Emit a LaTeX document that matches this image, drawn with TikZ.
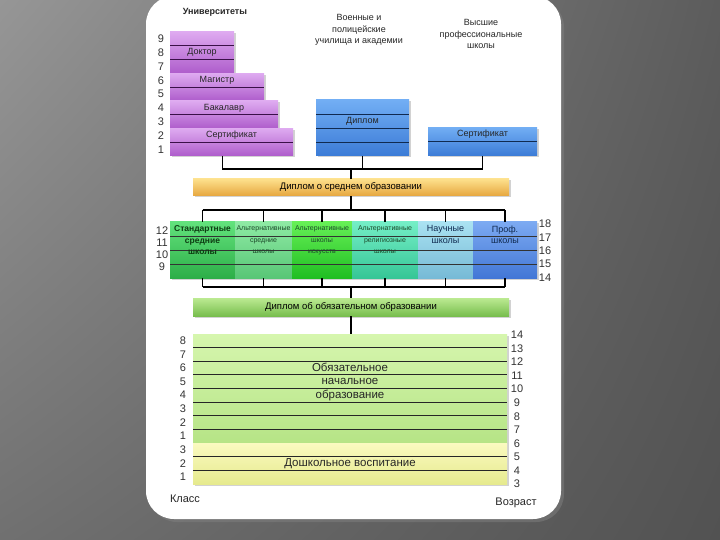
\documentclass[tikz,border=0pt]{standalone}
\usepackage{fontspec}
\setmainfont{Liberation Sans}
\usetikzlibrary{calc}
\usetikzlibrary{shadows}
\usetikzlibrary{shadings}

\definecolor{bgul}{HTML}{969696}
\definecolor{bgur}{HTML}{5C5C5C}
\definecolor{bgll}{HTML}{707070}
\definecolor{bglr}{HTML}{525252}
\definecolor{purpletop}{HTML}{DEAAF0}
\definecolor{purplebot}{HTML}{AE5CCB}
\definecolor{purpleline}{HTML}{3A1048}
\definecolor{bluetop}{HTML}{72AEF4}
\definecolor{bluebot}{HTML}{3B7BD6}
\definecolor{blueline}{HTML}{102A50}
\definecolor{goldtop}{HTML}{FDE08C}
\definecolor{goldbot}{HTML}{E6A63E}
\definecolor{stdtop}{HTML}{62E27C}
\definecolor{stdbot}{HTML}{2DAE48}
\definecolor{altatop}{HTML}{8EEAA4}
\definecolor{altabot}{HTML}{58C676}
\definecolor{altbtop}{HTML}{66F056}
\definecolor{altbbot}{HTML}{20BE22}
\definecolor{altctop}{HTML}{74EEC6}
\definecolor{altcbot}{HTML}{36C696}
\definecolor{nautop}{HTML}{AAE2F2}
\definecolor{naubot}{HTML}{76BAD6}
\definecolor{proftop}{HTML}{7CAAF2}
\definecolor{profbot}{HTML}{4276D6}
\definecolor{obrtop}{HTML}{BCEA92}
\definecolor{obrbot}{HTML}{78BE4E}
\definecolor{basictop}{HTML}{D6F6AE}
\definecolor{basicbot}{HTML}{B6E486}
\definecolor{preschtop}{HTML}{FAFAC0}
\definecolor{preschbot}{HTML}{E6EA8E}
\definecolor{boxtext}{HTML}{0D3D12}
\definecolor{alttext}{HTML}{1C4A2A}

\tikzset{
  block/.style={anchor=north west, inner sep=0pt, outer sep=0pt,
    drop shadow={opacity=0.35, shadow xshift=1.5pt, shadow yshift=-1.5pt}},
  unib/.style={block, top color=purpletop, bottom color=purplebot},
  blueb/.style={block, top color=bluetop, bottom color=bluebot},
  rowline/.style={line width=0.9pt},
  conn/.style={line width=1.4pt, black},
  num/.style={font=\fontsize{11}{11}\selectfont, text=black!80, inner sep=0pt},
  title/.style={font=\fontsize{9}{11.5}\selectfont, align=center, text=black!85},
  lbl/.style={font=\fontsize{9}{10}\selectfont, text=black!85, inner sep=1pt},
  boxlbl/.style={anchor=north, align=center, inner sep=1pt,
    font=\fontsize{9}{11.5}\selectfont},
  altlbl/.style={boxlbl, font=\fontsize{7}{11.5}\selectfont, text=alttext},
}

\begin{document}
\begin{tikzpicture}[x=1pt,y=-1pt]

\useasboundingbox (0,0) rectangle (720,540);

% Background and white sheet
\shade[upper left=bgul, upper right=bgur, lower left=bgll, lower right=bglr] (0,0) rectangle (720,540);
\fill[white, rounded corners=28pt, drop shadow={opacity=0.5, shadow xshift=3pt, shadow yshift=-3pt}] (146,-4) rectangle (561,519);

% Titles of the upper level
\node[title, font=\bfseries\fontsize{9}{11.5}\selectfont] (univ) at (215,12) {Университеты};
\node[title] (voen) at (359,30) {Военные и\\полицейские\\училища и академии};
\node[title] (vps) at (481,34) {Высшие\\профессиональные\\школы};

% Universities as a staircase of purple blocks
\node[unib, minimum width=64pt, minimum height=41.4pt] (doktor) at (170,32) {};
\node[unib, minimum width=94pt, minimum height=27.6pt] (magistr) at (170,73.4) {};
\node[unib, minimum width=108pt, minimum height=27.6pt] (bakalavr) at (170,101) {};
\node[unib, minimum width=123pt, minimum height=27.6pt] (usert) at (170,128.4) {};
\foreach \i in {1,2}
  \draw[rowline, purpleline] ($(doktor.north west)!\i/3!(doktor.south west)$) -- ($(doktor.north east)!\i/3!(doktor.south east)$);
\foreach \n in {magistr,bakalavr,usert}
  \draw[rowline, purpleline] (\n.west) -- (\n.east);
\node[lbl] (doktorlbl) at (doktor.center) {Доктор};
\node[lbl] (magistrlbl) at ($(magistr.north)!0.5!(magistr.center)$) {Магистр};
\node[lbl] (bakalavrlbl) at ($(bakalavr.north)!0.5!(bakalavr.center)$) {Бакалавр};
\node[lbl] (usertlbl) at ($(usert.north)!0.5!(usert.center)$) {Сертификат};

% Military academies and higher professional schools
\node[blueb, minimum width=93pt, minimum height=56pt] (diplom) at (316,100) {};
\foreach \i in {1,2,3}
  \draw[rowline, blueline] ($(diplom.north west)!\i/4!(diplom.south west)$) -- ($(diplom.north east)!\i/4!(diplom.south east)$);
\node[lbl] (diplomlbl) at ($(diplom.north)!0.375!(diplom.south)$) {Диплом};
\node[blueb, minimum width=109pt, minimum height=28.6pt] (vpssert) at (428,127.4) {};
\draw[rowline, blueline] (vpssert.west) -- (vpssert.east);
\node[lbl] (vpssertlbl) at ($(vpssert.north)!0.5!(vpssert.center)$) {Сертификат};

% Years of study 9..1
\foreach \n [count=\i from 0] in {9,...,1}
  \node[num] (ku\n) at (161,{38.9+13.8*\i}) {\n};

% Secondary school diploma
\node[block, top color=goldtop, bottom color=goldbot, minimum width=316pt, minimum height=17pt,
  font=\fontsize{9.5}{10}\selectfont] (gold) at (193,179) {Диплом о среднем образовании};

% Connectors above the gold bar
\coordinate (bus1) at (gold.north |- 0,169);
\draw[conn] (usert.south) ++(-9pt,0) |- (bus1) -| (vpssert.south);
\draw[conn] (diplom.south) -- (diplom.south |- bus1);
\draw[conn] (bus1) -- (gold.north);

% Secondary schools
\node[block, top color=stdtop, bottom color=stdbot, minimum width=65pt, minimum height=56pt] (std) at (170,222) {};
\node[block, top color=altatop, bottom color=altabot, minimum width=57pt, minimum height=56pt] (alta) at (235,222) {};
\node[block, top color=altbtop, bottom color=altbbot, minimum width=60pt, minimum height=56pt] (altb) at (292,222) {};
\node[block, top color=altctop, bottom color=altcbot, minimum width=66pt, minimum height=56pt] (altc) at (352,222) {};
\node[block, top color=nautop, bottom color=naubot, minimum width=55pt, minimum height=56pt] (nauch) at (418,222) {};
\node[block, top color=proftop, bottom color=profbot, minimum width=64pt, minimum height=56pt] (prof) at (473,222) {};
\foreach \i in {1,2,3}
  \draw[rowline, black!80] ($(std.north west)!\i/4!(std.south west)$) -- ($(prof.north east)!\i/4!(prof.south east)$);
\node[boxlbl, font=\bfseries\fontsize{8.5}{11.5}\selectfont, text=boxtext] (stdlbl) at ([yshift=-2.5pt]std.north) {Стандартные\\средние\\школы};
\node[altlbl] (altalbl) at ([yshift=-2.5pt]alta.north) {Альтернативные\\средние\\школы};
\node[altlbl] (altblbl) at ([yshift=-2.5pt]altb.north) {Альтернативные\\школы\\искусств};
\node[altlbl] (altclbl) at ([yshift=-2.5pt]altc.north) {Альтернативные\\религиозные\\школы};
\node[boxlbl, text=blueline] (nauchlbl) at ([yshift=-2.5pt]nauch.north) {Научные\\школы};
\node[boxlbl, text=blueline] (proflbl) at ([yshift=-2.5pt]prof.north) {Проф.\\школы};

% Connectors round the secondary schools
\coordinate (bus2) at (gold.south |- 0,210);
\coordinate (bus3) at (gold.south |- 0,287);
\draw[conn] (gold.south) -- (bus2);
\draw[conn] (bus2 -| std.north) -- (bus2 -| prof.north);
\draw[conn] (bus3 -| std.south) -- (bus3 -| prof.south);
\foreach \n in {std,alta,altb,altc,nauch,prof} {
  \draw[conn] (bus2 -| \n.north) -- (\n.north);
  \draw[conn] (\n.south) -- (bus3 -| \n.south);
}

% Grades and ages of the secondary level
\foreach \n/\y in {12/231, 11/243, 10/255, 9/267}
  \node[num] (ks\n) at (162,\y) {\n};
\foreach \n [count=\i from 0] in {18,...,14}
  \node[num] (vs\n) at (545,{224+13.4*\i}) {\n};

% Diploma of compulsory education
\node[block, top color=obrtop, bottom color=obrbot, minimum width=316pt, minimum height=18pt,
  font=\fontsize{9.5}{10}\selectfont] (obr) at (193,298) {Диплом об обязательном образовании};
\draw[conn] (bus3) -- (obr.north);

% Primary and preschool levels
\node[block, top color=basictop, bottom color=basicbot, minimum width=314pt, minimum height=109pt] (basic) at (193,334) {};
\node[block, top color=preschtop, bottom color=preschbot, minimum width=314pt, minimum height=41pt] (presch) at (193,443) {};
\foreach \i in {1,...,7}
  \draw[rowline, black!85] ($(basic.north west)!\i/8!(basic.south west)$) -- ($(basic.north east)!\i/8!(basic.south east)$);
\foreach \i in {1,2}
  \draw[rowline, black!85] ($(presch.north west)!\i/3!(presch.south west)$) -- ($(presch.north east)!\i/3!(presch.south east)$);
\draw[conn] (obr.south) -- (obr.south |- basic.north);
\node[align=center, font=\fontsize{11.5}{13.6}\selectfont, text=black!85] (basiclbl)
  at ($(basic.north)!3.5/8!(basic.south)$) {Обязательное\\начальное\\образование};
\node[font=\fontsize{11.5}{12}\selectfont, text=black!85] (preschlbl) at (presch.center) {Дошкольное воспитание};

% Grades and ages of the lower levels
\foreach \n [count=\i from 0] in {8,...,1}
  \node[num] (kb\n) at (183,{340.8+13.6*\i}) {\n};
\foreach \n [count=\i from 0] in {3,2,1}
  \node[num] (kp\n) at (183,{450+13.6*\i}) {\n};
\foreach \n [count=\i from 0] in {14,...,3}
  \node[num] (vb\n) at (517,{335+13.55*\i}) {\n};

% Axis captions
\node[font=\fontsize{11}{11}\selectfont, text=black!85] (klass) at (185,499) {Класс};
\node[font=\fontsize{11}{11}\selectfont, text=black!85] (vozrast) at (516,503) {Возраст};

\end{tikzpicture}
\end{document}
